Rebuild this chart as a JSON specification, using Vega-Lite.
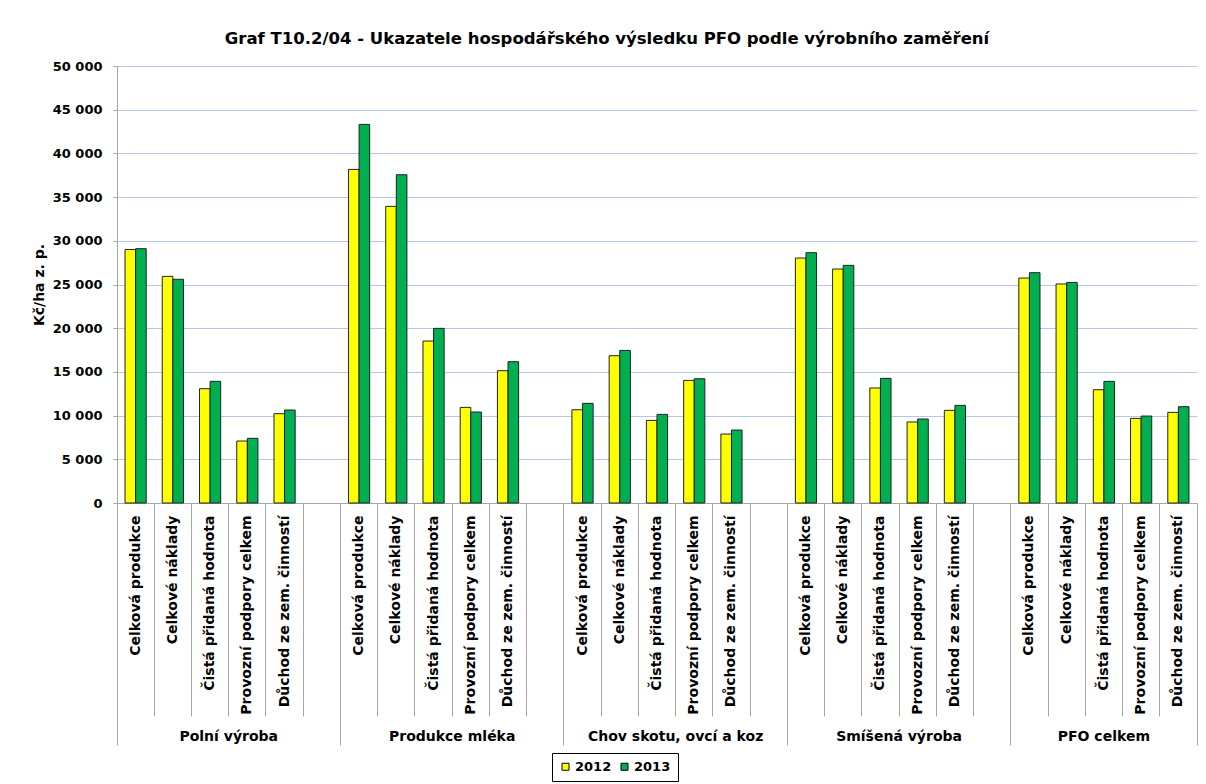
{
  "$schema": "https://vega.github.io/schema/vega-lite/v6.json",
  "width": 1080,
  "height": 437,
  "autosize": {"type": "none"},
  "padding": {"left": 117, "top": 66, "right": 9, "bottom": 281},
  "background": "white",
  "title": {
    "text": "Graf T10.2/04 - Ukazatele hospodářského výsledku PFO podle výrobního zaměření",
    "font": "DejaVu Sans",
    "fontSize": 16.5,
    "fontWeight": "bold",
    "color": "#000000",
    "anchor": "middle",
    "dx": -50,
    "offset": 13
  },
  "data": {
    "values": [
      {"g": "Polní výroba", "c": "Celková produkce", "year": "2012", "v": 29000},
      {"g": "Polní výroba", "c": "Celková produkce", "year": "2013", "v": 29100},
      {"g": "Polní výroba", "c": "Celkové náklady", "year": "2012", "v": 25930},
      {"g": "Polní výroba", "c": "Celkové náklady", "year": "2013", "v": 25600},
      {"g": "Polní výroba", "c": "Čistá přidaná hodnota", "year": "2012", "v": 13080},
      {"g": "Polní výroba", "c": "Čistá přidaná hodnota", "year": "2013", "v": 13920},
      {"g": "Polní výroba", "c": "Provozní podpory celkem", "year": "2012", "v": 7090},
      {"g": "Polní výroba", "c": "Provozní podpory celkem", "year": "2013", "v": 7400},
      {"g": "Polní výroba", "c": "Důchod ze zem. činností", "year": "2012", "v": 10220},
      {"g": "Polní výroba", "c": "Důchod ze zem. činností", "year": "2013", "v": 10640},
      {"g": "Produkce mléka", "c": "Celková produkce", "year": "2012", "v": 38170},
      {"g": "Produkce mléka", "c": "Celková produkce", "year": "2013", "v": 43320},
      {"g": "Produkce mléka", "c": "Celkové náklady", "year": "2012", "v": 33940},
      {"g": "Produkce mléka", "c": "Celkové náklady", "year": "2013", "v": 37560},
      {"g": "Produkce mléka", "c": "Čistá přidaná hodnota", "year": "2012", "v": 18530},
      {"g": "Produkce mléka", "c": "Čistá přidaná hodnota", "year": "2013", "v": 19980},
      {"g": "Produkce mléka", "c": "Provozní podpory celkem", "year": "2012", "v": 10940},
      {"g": "Produkce mléka", "c": "Provozní podpory celkem", "year": "2013", "v": 10410},
      {"g": "Produkce mléka", "c": "Důchod ze zem. činností", "year": "2012", "v": 15140},
      {"g": "Produkce mléka", "c": "Důchod ze zem. činností", "year": "2013", "v": 16170},
      {"g": "Chov skotu, ovcí a koz", "c": "Celková produkce", "year": "2012", "v": 10670},
      {"g": "Chov skotu, ovcí a koz", "c": "Celková produkce", "year": "2013", "v": 11400},
      {"g": "Chov skotu, ovcí a koz", "c": "Celkové náklady", "year": "2012", "v": 16850},
      {"g": "Chov skotu, ovcí a koz", "c": "Celkové náklady", "year": "2013", "v": 17460},
      {"g": "Chov skotu, ovcí a koz", "c": "Čistá přidaná hodnota", "year": "2012", "v": 9450},
      {"g": "Chov skotu, ovcí a koz", "c": "Čistá přidaná hodnota", "year": "2013", "v": 10140},
      {"g": "Chov skotu, ovcí a koz", "c": "Provozní podpory celkem", "year": "2012", "v": 14030},
      {"g": "Chov skotu, ovcí a koz", "c": "Provozní podpory celkem", "year": "2013", "v": 14220},
      {"g": "Chov skotu, ovcí a koz", "c": "Důchod ze zem. činností", "year": "2012", "v": 7890},
      {"g": "Chov skotu, ovcí a koz", "c": "Důchod ze zem. činností", "year": "2013", "v": 8350},
      {"g": "Smíšená výroba", "c": "Celková produkce", "year": "2012", "v": 28030},
      {"g": "Smíšená výroba", "c": "Celková produkce", "year": "2013", "v": 28640},
      {"g": "Smíšená výroba", "c": "Celkové náklady", "year": "2012", "v": 26770},
      {"g": "Smíšená výroba", "c": "Celkové náklady", "year": "2013", "v": 27190},
      {"g": "Smíšená výroba", "c": "Čistá přidaná hodnota", "year": "2012", "v": 13160},
      {"g": "Smíšená výroba", "c": "Čistá přidaná hodnota", "year": "2013", "v": 14260},
      {"g": "Smíšená výroba", "c": "Provozní podpory celkem", "year": "2012", "v": 9270},
      {"g": "Smíšená výroba", "c": "Provozní podpory celkem", "year": "2013", "v": 9610},
      {"g": "Smíšená výroba", "c": "Důchod ze zem. činností", "year": "2012", "v": 10600},
      {"g": "Smíšená výroba", "c": "Důchod ze zem. činností", "year": "2013", "v": 11170},
      {"g": "PFO celkem", "c": "Celková produkce", "year": "2012", "v": 25740},
      {"g": "PFO celkem", "c": "Celková produkce", "year": "2013", "v": 26350},
      {"g": "PFO celkem", "c": "Celkové náklady", "year": "2012", "v": 25060},
      {"g": "PFO celkem", "c": "Celkové náklady", "year": "2013", "v": 25240},
      {"g": "PFO celkem", "c": "Čistá přidaná hodnota", "year": "2012", "v": 12960},
      {"g": "PFO celkem", "c": "Čistá přidaná hodnota", "year": "2013", "v": 13920},
      {"g": "PFO celkem", "c": "Provozní podpory celkem", "year": "2012", "v": 9680},
      {"g": "PFO celkem", "c": "Provozní podpory celkem", "year": "2013", "v": 9950},
      {"g": "PFO celkem", "c": "Důchod ze zem. činností", "year": "2012", "v": 10370},
      {"g": "PFO celkem", "c": "Důchod ze zem. činností", "year": "2013", "v": 11020}
    ]
  },
  "transform": [
    {"calculate": "datum.g + '|' + datum.c", "as": "slot"}
  ],
  "encoding": {
    "y": {
      "field": "v",
      "type": "quantitative",
      "scale": {"domain": [0, 50000], "nice": false},
      "axis": {
        "title": "Kč/ha z. p.",
        "titleFont": "DejaVu Sans",
        "titleFontSize": 14,
        "titleFontWeight": "bold",
        "titleColor": "#000000",
        "titlePadding": 6,
        "values": [0, 5000, 10000, 15000, 20000, 25000, 30000, 35000, 40000, 45000, 50000],
        "labelExpr": "replace(format(datum.value, ','), regexp(',', 'g'), ' ')",
        "labelFont": "DejaVu Sans",
        "labelFontSize": 13,
        "labelFontWeight": "bold",
        "labelColor": "#000000",
        "labelPadding": 11,
        "tickSize": 4,
        "tickColor": "#A6A6A6",
        "domainColor": "#A6A6A6",
        "grid": true,
        "gridColor": "#B4C8E6",
        "gridWidth": 1
      }
    },
    "color": {
      "field": "year",
      "type": "nominal",
      "scale": {"domain": ["2012", "2013"], "range": ["#FFFF00", "#00B050"]},
      "legend": {
        "title": null,
        "orient": "none",
        "legendX": 435,
        "legendY": 687,
        "direction": "horizontal",
        "strokeColor": "#000000",
        "padding": 7,
        "symbolType": "square",
        "symbolSize": 49,
        "symbolStrokeColor": "#000000",
        "symbolStrokeWidth": 1,
        "labelFont": "DejaVu Sans",
        "labelFontSize": 13,
        "labelFontWeight": "bold",
        "labelColor": "#000000",
        "columnPadding": 6,
        "labelOffset": 3
      }
    }
  },
  "layer": [
    {
      "transform": [{"filter": "datum.year === '2012'"}],
      "mark": {"type": "bar", "stroke": "#222222", "strokeWidth": 1},
      "encoding": {
        "x": {
          "field": "slot",
          "type": "nominal",
          "sort": null,
          "scale": {
            "domain": [
              "Polní výroba|Celková produkce", "Polní výroba|Celkové náklady", "Polní výroba|Čistá přidaná hodnota", "Polní výroba|Provozní podpory celkem", "Polní výroba|Důchod ze zem. činností", "Polní výroba|",
              "Produkce mléka|Celková produkce", "Produkce mléka|Celkové náklady", "Produkce mléka|Čistá přidaná hodnota", "Produkce mléka|Provozní podpory celkem", "Produkce mléka|Důchod ze zem. činností", "Produkce mléka|",
              "Chov skotu, ovcí a koz|Celková produkce", "Chov skotu, ovcí a koz|Celkové náklady", "Chov skotu, ovcí a koz|Čistá přidaná hodnota", "Chov skotu, ovcí a koz|Provozní podpory celkem", "Chov skotu, ovcí a koz|Důchod ze zem. činností", "Chov skotu, ovcí a koz|",
              "Smíšená výroba|Celková produkce", "Smíšená výroba|Celkové náklady", "Smíšená výroba|Čistá přidaná hodnota", "Smíšená výroba|Provozní podpory celkem", "Smíšená výroba|Důchod ze zem. činností", "Smíšená výroba|",
              "PFO celkem|Celková produkce", "PFO celkem|Celkové náklady", "PFO celkem|Čistá přidaná hodnota", "PFO celkem|Provozní podpory celkem", "PFO celkem|Důchod ze zem. činností"
            ],
            "paddingInner": 0,
            "paddingOuter": 0
          },
          "axis": {
            "orient": "bottom",
            "title": null,
            "grid": false,
            "bandPosition": 0,
            "labelAngle": -90,
            "labelAlign": "right",
            "labelBaseline": "middle",
            "labelPadding": {"condition": {"test": "datum.value === 'Polní výroba|Celková produkce'", "value": -230}, "value": -201},
            "labelLimit": 400,
            "labelExpr": "split(datum.value, '|')[1]",
            "labelFont": "DejaVu Sans",
            "labelFontSize": 14,
            "labelFontWeight": "bold",
            "labelColor": "#000000",
            "tickSize": {"condition": {"test": "datum.value === 'Polní výroba|Celková produkce'", "value": 242}, "value": 213},
            "tickColor": "#A6A6A6",
            "domainColor": "#A6A6A6"
          }
        },
        "xOffset": {
          "field": "year",
          "type": "nominal",
          "scale": {"domain": ["2012", "2013"], "paddingInner": 0, "paddingOuter": 0.757}
        }
      }
    },
    {
      "transform": [{"filter": "datum.year === '2013'"}],
      "mark": {"type": "bar", "stroke": "#222222", "strokeWidth": 1},
      "encoding": {
        "x": {
          "field": "slot",
          "type": "nominal",
          "sort": null,
          "scale": {
            "domain": [
              "Polní výroba|Celková produkce", "Polní výroba|Celkové náklady", "Polní výroba|Čistá přidaná hodnota", "Polní výroba|Provozní podpory celkem", "Polní výroba|Důchod ze zem. činností", "Polní výroba|",
              "Produkce mléka|Celková produkce", "Produkce mléka|Celkové náklady", "Produkce mléka|Čistá přidaná hodnota", "Produkce mléka|Provozní podpory celkem", "Produkce mléka|Důchod ze zem. činností", "Produkce mléka|",
              "Chov skotu, ovcí a koz|Celková produkce", "Chov skotu, ovcí a koz|Celkové náklady", "Chov skotu, ovcí a koz|Čistá přidaná hodnota", "Chov skotu, ovcí a koz|Provozní podpory celkem", "Chov skotu, ovcí a koz|Důchod ze zem. činností", "Chov skotu, ovcí a koz|",
              "Smíšená výroba|Celková produkce", "Smíšená výroba|Celkové náklady", "Smíšená výroba|Čistá přidaná hodnota", "Smíšená výroba|Provozní podpory celkem", "Smíšená výroba|Důchod ze zem. činností", "Smíšená výroba|",
              "PFO celkem|Celková produkce", "PFO celkem|Celkové náklady", "PFO celkem|Čistá přidaná hodnota", "PFO celkem|Provozní podpory celkem", "PFO celkem|Důchod ze zem. činností"
            ],
            "paddingInner": 0,
            "paddingOuter": 0
          },
          "axis": {
            "orient": "bottom",
            "title": null,
            "grid": false,
            "domain": false,
            "bandPosition": 1,
            "values": ["Polní výroba|", "Produkce mléka|", "Chov skotu, ovcí a koz|", "Smíšená výroba|", "PFO celkem|Důchod ze zem. činností"],
            "labelAngle": 0,
            "labelAlign": "center",
            "labelBaseline": "top",
            "labelOffset": {"condition": {"test": "datum.value === 'PFO celkem|Důchod ze zem. činností'", "value": -74.5}, "value": -93.1},
            "labelPadding": -16,
            "labelLimit": 400,
            "labelExpr": "split(datum.value, '|')[0]",
            "labelFont": "DejaVu Sans",
            "labelFontSize": 14,
            "labelFontWeight": "bold",
            "labelColor": "#000000",
            "tickSize": 242,
            "tickColor": "#A6A6A6"
          }
        },
        "xOffset": {
          "field": "year",
          "type": "nominal",
          "scale": {"domain": ["2012", "2013"], "paddingInner": 0, "paddingOuter": 0.757}
        }
      }
    }
  ],
  "resolve": {"scale": {"x": "independent", "xOffset": "independent"}, "axis": {"x": "independent"}},
  "config": {
    "view": {"stroke": null},
    "font": "DejaVu Sans"
  }
}
